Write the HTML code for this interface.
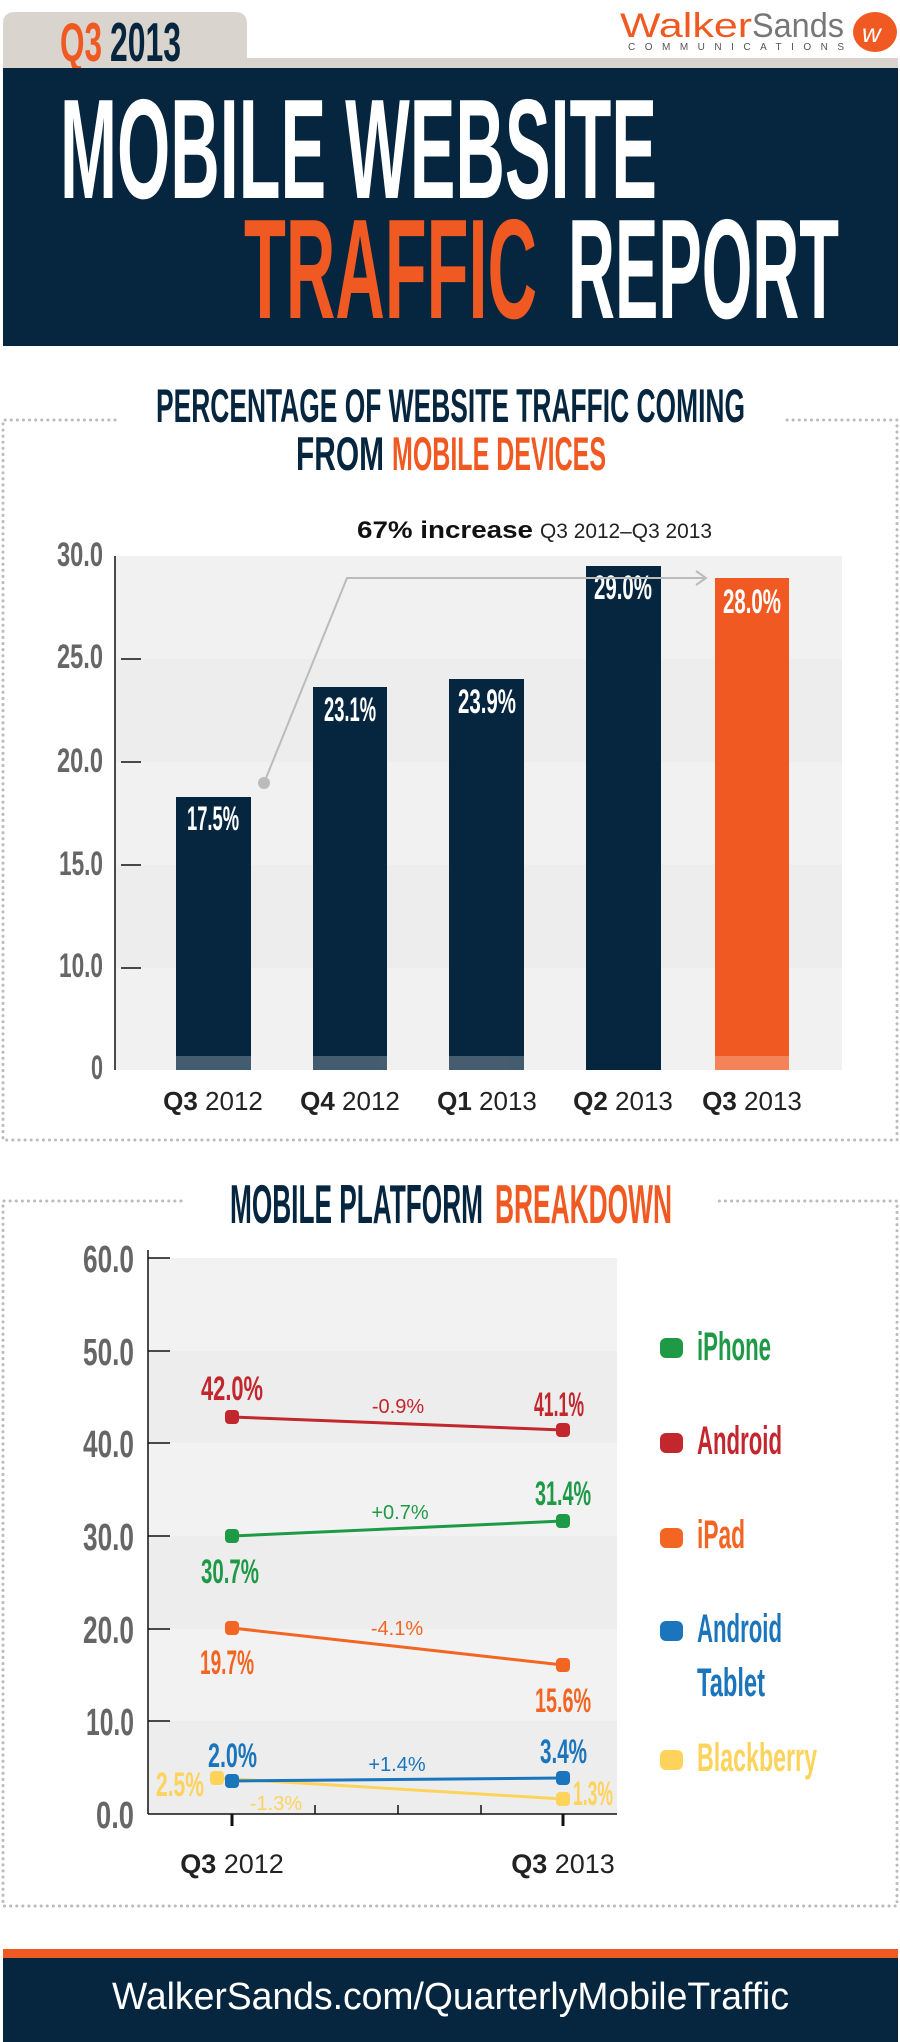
<!DOCTYPE html>
<html><head><meta charset="utf-8"><style>
html,body{margin:0;padding:0;background:#fff;}
svg{display:block;}
text{font-family:"Liberation Sans",sans-serif;}
</style></head><body>
<svg width="900" height="2042" viewBox="0 0 900 2042" xmlns="http://www.w3.org/2000/svg">
<!-- header -->
<path d="M3 58 V24 Q3 12 15 12 H235 Q247 12 247 24 V58 Z" fill="#d9d4cd"/>
<rect x="3" y="58" width="895" height="10" fill="#d9d4cd"/>
<text x="60" y="61" font-size="55" font-weight="bold" fill="#f05a22" textLength="42" lengthAdjust="spacingAndGlyphs">Q3</text>
<text x="110" y="61" font-size="55" font-weight="bold" fill="#06263f" textLength="71" lengthAdjust="spacingAndGlyphs">2013</text>
<text x="620" y="37" font-size="34" fill="#f05a22" textLength="132" lengthAdjust="spacingAndGlyphs">Walker</text>
<text x="752" y="37" font-size="34" fill="#777" textLength="92" lengthAdjust="spacingAndGlyphs">Sands</text>
<text x="628" y="50" font-size="10" fill="#555" textLength="216" lengthAdjust="spacing">COMMUNICATIONS</text>
<ellipse cx="875" cy="32" rx="22" ry="20" fill="#f05a22"/>
<text x="862" y="42" font-size="26" font-style="italic" fill="#fff">w</text>
<rect x="3" y="68" width="895" height="278" fill="#06263f"/>
<text x="60" y="198" font-size="142" font-weight="bold" fill="#fff" textLength="597" lengthAdjust="spacingAndGlyphs">MOBILE WEBSITE</text>
<text x="244" y="318" font-size="142" font-weight="bold" fill="#f05a22" textLength="293" lengthAdjust="spacingAndGlyphs">TRAFFIC</text>
<text x="568" y="318" font-size="142" font-weight="bold" fill="#fff" textLength="271" lengthAdjust="spacingAndGlyphs">REPORT</text>

<!-- section 1 -->
<g stroke="#bbb" stroke-width="3" stroke-dasharray="0.1 6" stroke-linecap="round" fill="none">
<path d="M115 420 H3 V1140 H897 V420 H786"/>
<path d="M181 1201 H3 V1906 H897 V1201 H718"/>
</g>
<text x="156" y="422" font-size="47" font-weight="bold" fill="#06263f" textLength="589" lengthAdjust="spacingAndGlyphs">PERCENTAGE OF WEBSITE TRAFFIC COMING</text>
<text x="296" y="470" font-size="47" font-weight="bold" fill="#06263f" textLength="88" lengthAdjust="spacingAndGlyphs">FROM</text>
<text x="392" y="470" font-size="47" font-weight="bold" fill="#f05a22" textLength="214" lengthAdjust="spacingAndGlyphs">MOBILE DEVICES</text>
<text x="357" y="538" font-size="24" font-weight="bold" fill="#111" textLength="176" lengthAdjust="spacingAndGlyphs">67% increase</text>
<text x="540" y="538" font-size="21" fill="#222" textLength="172" lengthAdjust="spacingAndGlyphs">Q3 2012–Q3 2013</text>

<rect x="115" y="556" width="727" height="514" fill="#ededed"/>
<rect x="115" y="556" width="727" height="103" fill="#f1f1f1"/>
<rect x="115" y="762" width="727" height="103" fill="#f1f1f1"/>
<rect x="115" y="968" width="727" height="102" fill="#f1f1f1"/>
<line x1="115" y1="556" x2="115" y2="1070" stroke="#111" stroke-width="1.5"/>
<g stroke="#111" stroke-width="1.5">
<line x1="121" y1="659" x2="141" y2="659"/><line x1="121" y1="762" x2="141" y2="762"/>
<line x1="121" y1="865" x2="141" y2="865"/><line x1="121" y1="968" x2="141" y2="968"/>
</g>
<g font-size="34" font-weight="bold" fill="#666" text-anchor="end">
<text x="103" y="566" textLength="46" lengthAdjust="spacingAndGlyphs">30.0</text>
<text x="103" y="668" textLength="46" lengthAdjust="spacingAndGlyphs">25.0</text>
<text x="103" y="772" textLength="46" lengthAdjust="spacingAndGlyphs">20.0</text>
<text x="103" y="875" textLength="44" lengthAdjust="spacingAndGlyphs">15.0</text>
<text x="103" y="977" textLength="44" lengthAdjust="spacingAndGlyphs">10.0</text>
<text x="103" y="1079" textLength="12" lengthAdjust="spacingAndGlyphs">0</text>
</g>
<g fill="#06263f">
<rect x="176" y="797" width="75" height="273"/>
<rect x="313" y="687" width="74" height="383"/>
<rect x="449" y="679" width="75" height="391"/>
<rect x="586" y="566" width="75" height="504"/>
</g>
<rect x="715" y="578" width="74" height="492" fill="#f05a22"/>
<g fill="#fff" opacity="0.25">
<rect x="176" y="1056" width="75" height="14"/><rect x="313" y="1056" width="74" height="14"/>
<rect x="449" y="1056" width="75" height="14"/><rect x="715" y="1056" width="74" height="14"/>
</g>
<g font-size="34" font-weight="bold" fill="#fff" text-anchor="middle">
<text x="213" y="830" textLength="52" lengthAdjust="spacingAndGlyphs">17.5%</text>
<text x="350" y="721" textLength="52" lengthAdjust="spacingAndGlyphs">23.1%</text>
<text x="487" y="713" textLength="58" lengthAdjust="spacingAndGlyphs">23.9%</text>
<text x="623" y="599" textLength="58" lengthAdjust="spacingAndGlyphs">29.0%</text>
<text x="752" y="613" textLength="58" lengthAdjust="spacingAndGlyphs">28.0%</text>
</g>
<path d="M264 783 L347 578 H704" fill="none" stroke="#bbb" stroke-width="2"/>
<path d="M696 571 L706 578 L696 585" fill="none" stroke="#bbb" stroke-width="2"/>
<circle cx="264" cy="783" r="6" fill="#bbb"/>
<g font-size="26" fill="#222" text-anchor="middle">
<text x="213" y="1110"><tspan font-weight="bold">Q3</tspan> 2012</text>
<text x="350" y="1110"><tspan font-weight="bold">Q4</tspan> 2012</text>
<text x="487" y="1110"><tspan font-weight="bold">Q1</tspan> 2013</text>
<text x="623" y="1110"><tspan font-weight="bold">Q2</tspan> 2013</text>
<text x="752" y="1110"><tspan font-weight="bold">Q3</tspan> 2013</text>
</g>

<!-- section 2 -->
<text x="230" y="1223" font-size="55" font-weight="bold" fill="#06263f" textLength="253" lengthAdjust="spacingAndGlyphs">MOBILE PLATFORM</text>
<text x="495" y="1223" font-size="55" font-weight="bold" fill="#f05a22" textLength="177" lengthAdjust="spacingAndGlyphs">BREAKDOWN</text>
<rect x="148" y="1258" width="469" height="556" fill="#ededed"/>
<rect x="148" y="1258" width="469" height="93" fill="#f2f2f2"/>
<rect x="148" y="1443" width="469" height="93" fill="#f2f2f2"/>
<rect x="148" y="1629" width="469" height="92" fill="#f2f2f2"/>
<g stroke="#111" stroke-width="1.5">
<line x1="148" y1="1250" x2="148" y2="1814"/><line x1="148" y1="1814" x2="617" y2="1814"/>
<line x1="148" y1="1258" x2="170" y2="1258"/><line x1="148" y1="1351" x2="170" y2="1351"/>
<line x1="148" y1="1443" x2="170" y2="1443"/><line x1="148" y1="1536" x2="170" y2="1536"/>
<line x1="148" y1="1629" x2="170" y2="1629"/><line x1="148" y1="1721" x2="170" y2="1721"/>
<line x1="315" y1="1805" x2="315" y2="1814"/><line x1="398" y1="1805" x2="398" y2="1814"/><line x1="481" y1="1805" x2="481" y2="1814"/>
</g>
<g stroke="#111" stroke-width="3"><line x1="232" y1="1814" x2="232" y2="1826"/><line x1="563" y1="1814" x2="563" y2="1826"/></g>
<g font-size="38" font-weight="bold" fill="#666" text-anchor="end">
<text x="134" y="1272" textLength="51" lengthAdjust="spacingAndGlyphs">60.0</text>
<text x="134" y="1365" textLength="51" lengthAdjust="spacingAndGlyphs">50.0</text>
<text x="134" y="1457" textLength="51" lengthAdjust="spacingAndGlyphs">40.0</text>
<text x="134" y="1550" textLength="51" lengthAdjust="spacingAndGlyphs">30.0</text>
<text x="134" y="1643" textLength="51" lengthAdjust="spacingAndGlyphs">20.0</text>
<text x="134" y="1735" textLength="48" lengthAdjust="spacingAndGlyphs">10.0</text>
<text x="134" y="1828" textLength="38" lengthAdjust="spacingAndGlyphs">0.0</text>
</g>
<g stroke-width="3">
<line x1="217" y1="1778" x2="563" y2="1799" stroke="#fdd35c"/>
<line x1="232" y1="1417" x2="563" y2="1430" stroke="#c1272d"/>
<line x1="232" y1="1536" x2="563" y2="1521" stroke="#1e9a47"/>
<line x1="232" y1="1628" x2="563" y2="1665" stroke="#f26522"/>
<line x1="232" y1="1781" x2="563" y2="1778" stroke="#1a75bc"/>
</g>
<g>
<rect x="210" y="1771" width="14" height="14" rx="4" fill="#fdd35c"/>
<rect x="556" y="1792" width="14" height="14" rx="4" fill="#fdd35c"/>
<rect x="225" y="1410" width="14" height="14" rx="4" fill="#c1272d"/>
<rect x="556" y="1423" width="14" height="14" rx="4" fill="#c1272d"/>
<rect x="225" y="1529" width="14" height="14" rx="4" fill="#1e9a47"/>
<rect x="556" y="1514" width="14" height="14" rx="4" fill="#1e9a47"/>
<rect x="225" y="1621" width="14" height="14" rx="4" fill="#f26522"/>
<rect x="556" y="1658" width="14" height="14" rx="4" fill="#f26522"/>
<rect x="225" y="1774" width="14" height="14" rx="4" fill="#1a75bc"/>
<rect x="556" y="1771" width="14" height="14" rx="4" fill="#1a75bc"/>
</g>
<g font-size="34" font-weight="bold">
<text x="201" y="1400" fill="#c1272d" textLength="62" lengthAdjust="spacingAndGlyphs">42.0%</text>
<text x="534" y="1416" fill="#c1272d" textLength="50" lengthAdjust="spacingAndGlyphs">41.1%</text>
<text x="535" y="1505" fill="#1e9a47" textLength="56" lengthAdjust="spacingAndGlyphs">31.4%</text>
<text x="201" y="1583" fill="#1e9a47" textLength="58" lengthAdjust="spacingAndGlyphs">30.7%</text>
<text x="200" y="1674" fill="#f26522" textLength="54" lengthAdjust="spacingAndGlyphs">19.7%</text>
<text x="535" y="1712" fill="#f26522" textLength="56" lengthAdjust="spacingAndGlyphs">15.6%</text>
<text x="208" y="1767" fill="#1a75bc" textLength="49" lengthAdjust="spacingAndGlyphs">2.0%</text>
<text x="540" y="1763" fill="#1a75bc" textLength="47" lengthAdjust="spacingAndGlyphs">3.4%</text>
<text x="156" y="1796" fill="#fdd35c" textLength="48" lengthAdjust="spacingAndGlyphs">2.5%</text>
<text x="573" y="1805" fill="#fdd35c" textLength="40" lengthAdjust="spacingAndGlyphs">1.3%</text>
</g>
<g font-size="20" text-anchor="middle">
<text x="398" y="1413" fill="#c1272d">-0.9%</text>
<text x="400" y="1519" fill="#1e9a47">+0.7%</text>
<text x="397" y="1635" fill="#f26522">-4.1%</text>
<text x="397" y="1771" fill="#1a75bc">+1.4%</text>
<text x="276" y="1810" fill="#fdd35c">-1.3%</text>
</g>
<g font-size="27" fill="#222" text-anchor="middle">
<text x="232" y="1873"><tspan font-weight="bold">Q3</tspan> 2012</text>
<text x="563" y="1873"><tspan font-weight="bold">Q3</tspan> 2013</text>
</g>
<!-- legend -->
<g>
<rect x="660" y="1338" width="23" height="20" rx="6" fill="#1e9a47"/>
<rect x="660" y="1433" width="23" height="20" rx="6" fill="#c1272d"/>
<rect x="660" y="1528" width="23" height="20" rx="6" fill="#f26522"/>
<rect x="660" y="1621" width="23" height="20" rx="6" fill="#1a75bc"/>
<rect x="660" y="1750" width="23" height="20" rx="6" fill="#fdd35c"/>
</g>
<g font-size="40" font-weight="bold">
<text x="697" y="1360" fill="#1e9a47" textLength="74" lengthAdjust="spacingAndGlyphs">iPhone</text>
<text x="697" y="1454" fill="#c1272d" textLength="85" lengthAdjust="spacingAndGlyphs">Android</text>
<text x="697" y="1548" fill="#f26522" textLength="48" lengthAdjust="spacingAndGlyphs">iPad</text>
<text x="697" y="1642" fill="#1a75bc" textLength="85" lengthAdjust="spacingAndGlyphs">Android</text>
<text x="697" y="1696" fill="#1a75bc" textLength="68" lengthAdjust="spacingAndGlyphs">Tablet</text>
<text x="697" y="1771" fill="#fdd35c" textLength="120" lengthAdjust="spacingAndGlyphs">Blackberry</text>
</g>

<!-- footer -->
<rect x="3" y="1949" width="895" height="9" fill="#f05a22"/>
<rect x="3" y="1958" width="895" height="84" fill="#06263f"/>
<text x="112" y="2009" font-size="38" fill="#fff" textLength="677" lengthAdjust="spacingAndGlyphs">WalkerSands.com/QuarterlyMobileTraffic</text>
</svg>
</body></html>
